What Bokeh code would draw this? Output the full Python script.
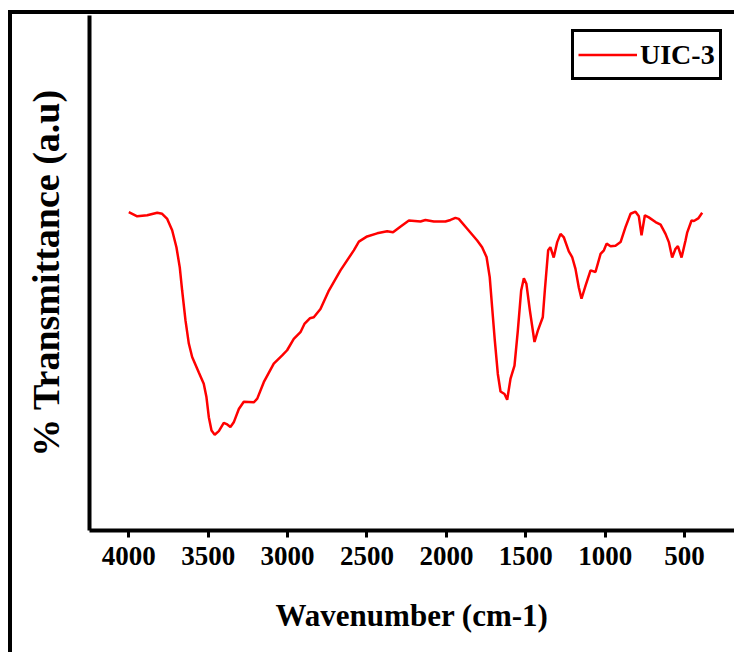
from bokeh.plotting import figure
from bokeh.models import Range1d, Legend, LegendItem, FixedTicker
from bokeh.embed import file_html
from bokeh.resources import INLINE

# Wavenumber (cm-1) and % transmittance (a.u.)
wavenumber = [4000, 3947, 3884, 3821, 3790, 3758, 3727, 3700, 3679, 3664, 3643, 3622, 3601,
              3559, 3528, 3511, 3496, 3479, 3459, 3433, 3402, 3380, 3360, 3339, 3307, 3276,
              3213, 3191, 3150, 3087, 3034, 3003, 2961, 2919, 2894, 2860, 2835, 2793, 2740,
              2667, 2583, 2551, 2499, 2436, 2373, 2336, 2290, 2236, 2163, 2132, 2079, 2006,
              1974, 1943, 1922, 1869, 1806, 1775, 1747, 1727, 1712, 1695, 1676, 1659, 1634,
              1617, 1596, 1571, 1550, 1529, 1512, 1496, 1474, 1445, 1424, 1393, 1380, 1359,
              1345, 1324, 1302, 1281, 1260, 1229, 1208, 1187, 1166, 1149, 1123, 1092, 1061,
              1029, 1008, 991, 966, 935, 903, 872, 840, 809, 788, 771, 750, 725, 683, 651,
              620, 599, 578, 557, 542, 519, 494, 483, 456, 441, 414, 389]
transmittance = [61.8, 61.0, 61.2, 61.7, 61.5, 60.5, 58.3, 55.0, 51.1, 46.6, 40.8, 36.3, 33.7,
                 30.7, 28.5, 25.9, 22.0, 19.4, 18.6, 19.3, 20.9, 20.6, 20.1, 21.0, 23.6, 25.0,
                 24.9, 25.6, 28.8, 32.4, 34.0, 35.0, 37.2, 38.5, 40.1, 41.2, 41.4, 43.0, 46.6,
                 50.5, 54.4, 56.1, 57.1, 57.7, 58.1, 57.9, 59.0, 60.2, 60.0, 60.3, 60.0, 60.0,
                 60.3, 60.7, 60.5, 58.6, 56.3, 55.0, 53.1, 49.2, 43.4, 36.9, 30.4, 27.0, 26.5,
                 25.4, 29.5, 32.0, 38.8, 46.6, 49.0, 47.9, 42.7, 36.6, 38.8, 41.4, 46.6, 54.4,
                 55.0, 53.0, 56.0, 57.6, 56.9, 54.2, 53.1, 50.8, 47.2, 45.0, 47.6, 50.5, 50.2,
                 53.7, 54.4, 55.7, 55.2, 55.3, 56.0, 58.9, 61.5, 61.9, 61.0, 57.3, 61.2, 60.8,
                 59.9, 59.4, 57.6, 56.0, 53.0, 54.7, 55.2, 53.0, 56.3, 57.9, 60.2, 60.1, 60.6,
                 61.7]
x_ticks = [4000, 3500, 3000, 2500, 2000, 1500, 1000, 500]
series_name = "UIC-3"

FONT = "Liberation Serif"

# outer picture frame (left and top edges) drawn as CSS background behind a transparent border
frame_styles = {
    "background-color": "white",
    "background-image": "linear-gradient(black, black), linear-gradient(black, black)",
    "background-size": "4px 642px, 726px 4px",
    "background-position": "8px 10px, 8px 10px",
    "background-repeat": "no-repeat",
}

p = figure(width=734, height=652, output_backend="svg", toolbar_location=None,
           x_range=Range1d(4247.5, 185.5), y_range=Range1d(0, 100),
           min_border_left=89, min_border_right=0, min_border_top=15, min_border_bottom=122,
           styles=frame_styles)
p.outline_line_color = None
p.xgrid.visible = False
p.ygrid.visible = False
p.background_fill_color = "white"
p.border_fill_color = None

line = p.line(wavenumber, transmittance, line_color="#ff0000", line_width=2.5)

# x axis
xa = p.xaxis[0]
xa.ticker = FixedTicker(ticks=x_ticks)
xa.minor_tick_line_color = None
xa.axis_line_width = 4
xa.axis_line_color = "black"
xa.major_tick_line_width = 3
xa.major_tick_line_color = "black"
xa.major_tick_out = 7
xa.major_tick_in = 0
xa.major_label_text_font = FONT
xa.major_label_text_font_style = "bold"
xa.major_label_text_font_size = "27px"
xa.major_label_text_color = "black"
xa.major_label_standoff = 9
xa.axis_label = "Wavenumber (cm-1)"
xa.axis_label_text_font = FONT
xa.axis_label_text_font_style = "bold"
xa.axis_label_text_font_size = "31px"
xa.axis_label_text_color = "black"
xa.axis_label_standoff = 30

# y axis
ya = p.yaxis[0]
ya.axis_line_width = 4
ya.axis_line_color = "black"
ya.major_tick_line_color = None
ya.minor_tick_line_color = None
ya.major_label_text_font_size = "0px"
ya.major_label_text_color = None
ya.axis_label = "% Transmittance (a.u)"
ya.axis_label_text_font = FONT
ya.axis_label_text_font_style = "bold"
ya.axis_label_text_font_size = "38px"
ya.axis_label_text_color = "black"
ya.axis_label_standoff = 17

# legend
legend = Legend(items=[LegendItem(label=series_name, renderers=[line])],
                location=(482, 450), orientation="vertical")
legend.border_line_color = "black"
legend.border_line_alpha = 1
legend.border_line_width = 3.5
legend.background_fill_color = "white"
legend.background_fill_alpha = 1
legend.label_text_font = FONT
legend.label_text_font_style = "bold"
legend.label_text_font_size = "28px"
legend.label_text_color = "black"
legend.glyph_width = 59
legend.glyph_height = 37
legend.label_height = 37
legend.label_standoff = 3
legend.padding = 4
legend.spacing = 0
legend.margin = 0
p.add_layout(legend)

open("out.html", "w").write(file_html(p, INLINE))
